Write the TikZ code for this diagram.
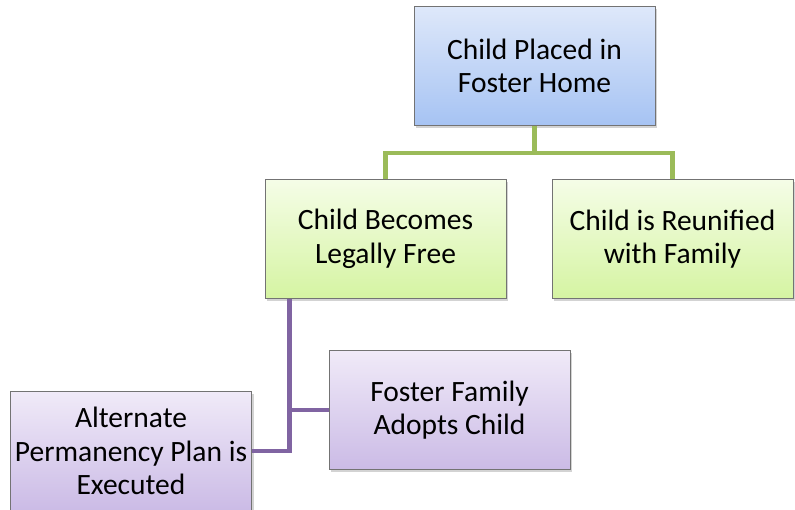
\documentclass[tikz,border=0pt]{standalone}
\usepackage{fontspec}
\setmainfont{Carlito}
\usetikzlibrary{shadows}

\definecolor{greenline}{HTML}{9BBB59}
\definecolor{purpleline}{HTML}{8064A2}

\begin{document}
\begin{tikzpicture}[x=1pt,y=-1pt,
              box/.style={draw=black!55, line width=0.8pt, align=center,
                minimum width=241pt, minimum height=119pt,
                font=\fontsize{29.5}{33.5}\selectfont,
                drop shadow={shadow xshift=2pt, shadow yshift=-2.5pt, opacity=0.35}},
              bluebox/.style={box, top color={rgb,255:red,222;green,232;blue,250}, bottom color={rgb,255:red,166;green,195;blue,243}},
              greenbox/.style={box, top color={rgb,255:red,245;green,253;blue,231}, bottom color={rgb,255:red,213;green,244;blue,162}},
              purplebox/.style={box, top color={rgb,255:red,240;green,234;blue,248}, bottom color={rgb,255:red,203;green,187;blue,230}},
              gline/.style={draw=greenline, line width=4.5pt},
              pline/.style={draw=purpleline, line width=4.5pt}]
  \useasboundingbox (0,0) rectangle (795,510);
              \node[bluebox] (Placed) at (534.5,66) {Child Placed in\\Foster Home};
              \node[greenbox] (Free) at (385.5,239) {Child Becomes\\Legally Free};
              \node[greenbox] (Reunified) at (672.5,239) {Child is Reunified\\with Family};
              \node[purplebox] (Adopts) at (449.5,410) {Foster Family\\Adopts Child};
              \node[purplebox] (Alternate) at (131,451) {Alternate\\Permanency Plan is\\Executed};
              % green branch
              \draw[gline] (Placed.south) -- ++(0,27) coordinate (GJ);
              \draw[gline] (Free.north) |- (GJ) -| (Reunified.north);
              % purple branch
              \coordinate (PJ) at ([xshift=25pt]Free.south west);
              \draw[pline] (PJ) |- (Alternate.east);
              \draw[pline] (Adopts.west) -- (Adopts.west -| PJ);
            \end{tikzpicture}
\end{document}
